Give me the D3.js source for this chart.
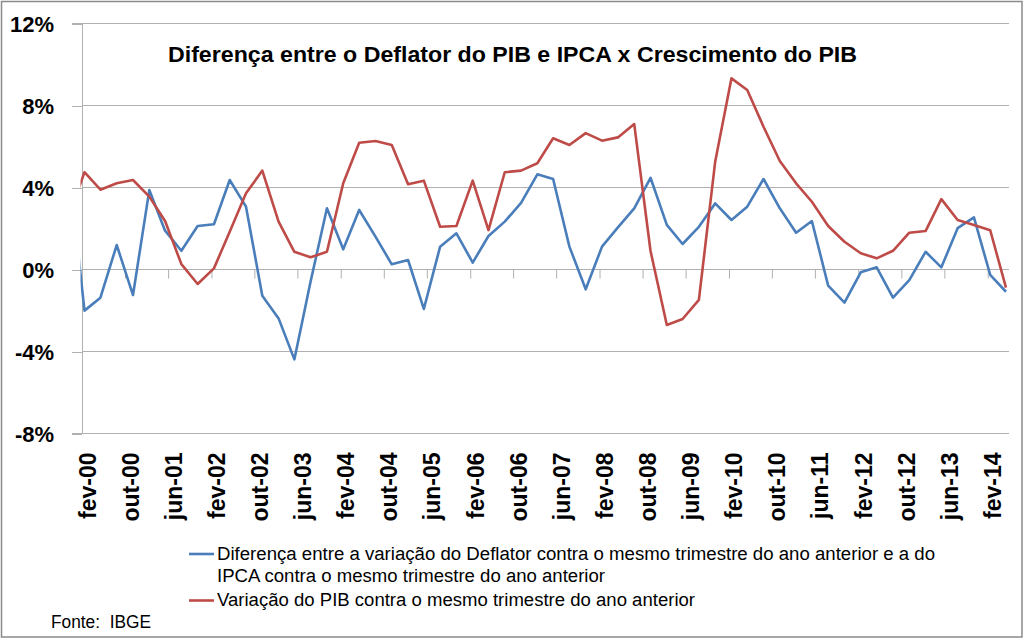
<!DOCTYPE html>
<html><head><meta charset="utf-8">
<script src="https://cdn.jsdelivr.net/npm/d3@7"></script>
<style>body{margin:0;background:#fff}svg{display:block}text{font-family:"Liberation Sans",Arial,sans-serif}</style>
</head><body><svg id="c" width="1024" height="639"></svg>
<script>
// ---- data ----
const quarterDates = ["1999-11-15",
"2000-02-15","2000-05-15","2000-08-15","2000-11-15",
"2001-02-15","2001-05-15","2001-08-15","2001-11-15",
"2002-02-15","2002-05-15","2002-08-15","2002-11-15",
"2003-02-15","2003-05-15","2003-08-15","2003-11-15",
"2004-02-15","2004-05-15","2004-08-15","2004-11-15",
"2005-02-15","2005-05-15","2005-08-15","2005-11-15",
"2006-02-15","2006-05-15","2006-08-15","2006-11-15",
"2007-02-15","2007-05-15","2007-08-15","2007-11-15",
"2008-02-15","2008-05-15","2008-08-15","2008-11-15",
"2009-02-15","2009-05-15","2009-08-15","2009-11-15",
"2010-02-15","2010-05-15","2010-08-15","2010-11-15",
"2011-02-15","2011-05-15","2011-08-15","2011-11-15",
"2012-02-15","2012-05-15","2012-08-15","2012-11-15",
"2013-02-15","2013-05-15","2013-08-15","2013-11-15",
"2014-02-15","2014-05-15"];
const deflatorMinusIPCA = [5.3,
-2.03,-1.4,1.17,-1.27, 3.85,1.87,0.89,2.10, 2.18,4.34,3.04,-1.3,
-2.41,-4.41,-0.6,2.96, 0.96,2.88,1.58,0.23, 0.44,-1.95,1.09,1.74,
0.31,1.61,2.31,3.23, 4.62,4.39,1.09,-0.99, 1.09,2.03,2.96,4.45,
2.15,1.22,2.06,3.2, 2.39,3.04,4.39,2.96, 1.77,2.34,-0.81,-1.64,
-0.16,0.08,-1.4,-0.54, 0.84,0.08,1.99,2.52, -0.29,-1.11];
const pibGrowth = [2.5,
4.72,3.87,4.18,4.34, 3.53,2.34,0.24,-0.73, 0.03,1.82,3.69,4.8,
2.31,0.84,0.57,0.84, 4.18,6.16,6.24,6.05, 4.13,4.31,2.06,2.10,
4.31,1.90,4.72,4.8, 5.16,6.38,6.05,6.63, 6.26,6.42,7.07,0.88,
-2.73,-2.44,-1.51,5.23, 9.3,8.73,6.94,5.27, 4.18,3.28,2.10,1.33,
0.77,0.52,0.89,1.77, 1.85,3.41,2.39,2.15, 1.89,-0.91];
const xTickLabels = ["fev-00","out-00","jun-01","fev-02","out-02","jun-03","fev-04","out-04","jun-05","fev-06","out-06","jun-07","fev-08","out-08","jun-09","fev-10","out-10","jun-11","fev-12","out-12","jun-13","fev-14"];
const yTicks = [-8,-4,0,4,8,12];
const axisStart = "2000-02-01", axisEnd = "2014-06-01";
const title = "Diferença entre o Deflator do PIB e IPCA x Crescimento do PIB";
const legend1 = ["Diferença entre a variação do Deflator contra o mesmo trimestre do ano anterior e a do", "IPCA contra o mesmo trimestre do ano anterior"];
const legend2 = "Variação do PIB contra o mesmo trimestre do ano anterior";
const source = "Fonte:  IBGE";

// ---- chart ----
const blue = "#4a7ebb", red = "#be4b48", grid = "#b0b0b0";
const pt = d3.timeFormatLocale({dateTime:"%x %X",date:"%d/%m/%Y",time:"%H:%M:%S",periods:["AM","PM"],
  days:["domingo","segunda","terça","quarta","quinta","sexta","sábado"],shortDays:["dom","seg","ter","qua","qui","sex","sáb"],
  months:["janeiro","fevereiro","março","abril","maio","junho","julho","agosto","setembro","outubro","novembro","dezembro"],
  shortMonths:["jan","fev","mar","abr","mai","jun","jul","ago","set","out","nov","dez"]});
const parseTick = pt.utcParse("%b-%y"), fmtTick = pt.utcFormat("%b-%y");
const parseISO = d3.utcParse("%Y-%m-%d");
const svg = d3.select("#c");
const L = 82, R = 1009, T = 23, B = 433;
const x = d3.scaleUtc().domain([parseISO(axisStart), parseISO(axisEnd)]).range([L, R]);
const y = d3.scaleLinear().domain([-8, 12]).range([B, T]);

svg.append("rect").attr("x",1.5).attr("y",1.5).attr("width",1020.5).attr("height",635.5)
  .attr("fill","#fff").attr("stroke","#8a8a8a").attr("stroke-width",1.5);

// gridlines + y axis
const yAxis = d3.axisLeft(y).tickValues(yTicks).tickSize(L - 72).tickFormat(d => d + "%");
const gy = svg.append("g").attr("transform",`translate(${L},0)`).call(yAxis);
gy.select(".domain").attr("stroke", grid);
gy.selectAll(".tick line").attr("stroke", grid).attr("shape-rendering","crispEdges");
gy.selectAll(".tick text").attr("x", 54 - L).attr("dy", null).attr("dominant-baseline","auto")
  .attr("transform", null).attr("y", 8).attr("font-size", 22).attr("font-weight","bold").attr("fill","#000")
  .attr("font-family","'Liberation Sans',Arial,sans-serif");
svg.append("g").selectAll("line").data(yTicks).join("line")
  .attr("x1", L).attr("x2", R).attr("y1", d => Math.round(y(d)) + 0.5).attr("y2", d => Math.round(y(d)) + 0.5)
  .attr("stroke", grid);
gy.selectAll(".tick line").attr("transform","translate(0,0.5)");

// x axis at 0%
const tickDates = xTickLabels.map(parseTick);
const xAxis = d3.axisBottom(x).tickValues(tickDates).tickSize(9).tickFormat(fmtTick);
const gx = svg.append("g").attr("transform",`translate(0,${Math.round(y(0)) + 0.5})`).call(xAxis);
gx.select(".domain").remove();
gx.selectAll(".tick line").attr("stroke", grid);
gx.selectAll(".tick text").attr("fill","#000").attr("font-size",23).attr("font-weight","bold")
  .attr("font-family","'Liberation Sans',Arial,sans-serif")
  .attr("text-anchor","end").attr("dy", null)
  .attr("transform", `translate(13,${452 - Math.round(y(0))}) rotate(-90)`).attr("x",0).attr("y",0);

// clip
svg.append("clipPath").attr("id","plot").append("rect").attr("x", L - 1.5).attr("y", 0).attr("width", R - L + 1.5).attr("height", 639);

const dates = quarterDates.map(parseISO);
const line = d3.line().x((d,i) => x(dates[i])).y(d => y(d));
const lg = svg.append("g").attr("clip-path","url(#plot)");
lg.append("path").datum(deflatorMinusIPCA).attr("d", line).attr("fill","none").attr("stroke", blue).attr("stroke-width", 2.6).attr("stroke-linejoin","round");
lg.append("path").datum(pibGrowth).attr("d", line).attr("fill","none").attr("stroke", red).attr("stroke-width", 2.6).attr("stroke-linejoin","round");

// title
svg.append("text").attr("x", 512.5).attr("y", 62).attr("text-anchor","middle").attr("font-size", 22)
  .attr("font-weight","bold").attr("textLength", 689).attr("lengthAdjust","spacingAndGlyphs").text(title);

// legend
svg.append("line").attr("x1",189).attr("x2",214).attr("y1",554).attr("y2",554).attr("stroke",blue).attr("stroke-width",2.6);
svg.append("line").attr("x1",189).attr("x2",214).attr("y1",600.5).attr("y2",600.5).attr("stroke",red).attr("stroke-width",2.6);
const legW = [718, 388];
legend1.forEach((t,i) => svg.append("text").attr("x",217).attr("y", [559.5, 582][i]).attr("font-size",18)
  .attr("textLength", legW[i]).attr("lengthAdjust","spacingAndGlyphs").text(t));
svg.append("text").attr("x",217).attr("y",606).attr("font-size",18).attr("textLength",478)
  .attr("lengthAdjust","spacingAndGlyphs").text(legend2);
svg.append("text").attr("x",51).attr("y",628).attr("font-size",18).style("white-space","pre")
  .attr("textLength",100).attr("lengthAdjust","spacingAndGlyphs").text(source);
</script></body></html>
